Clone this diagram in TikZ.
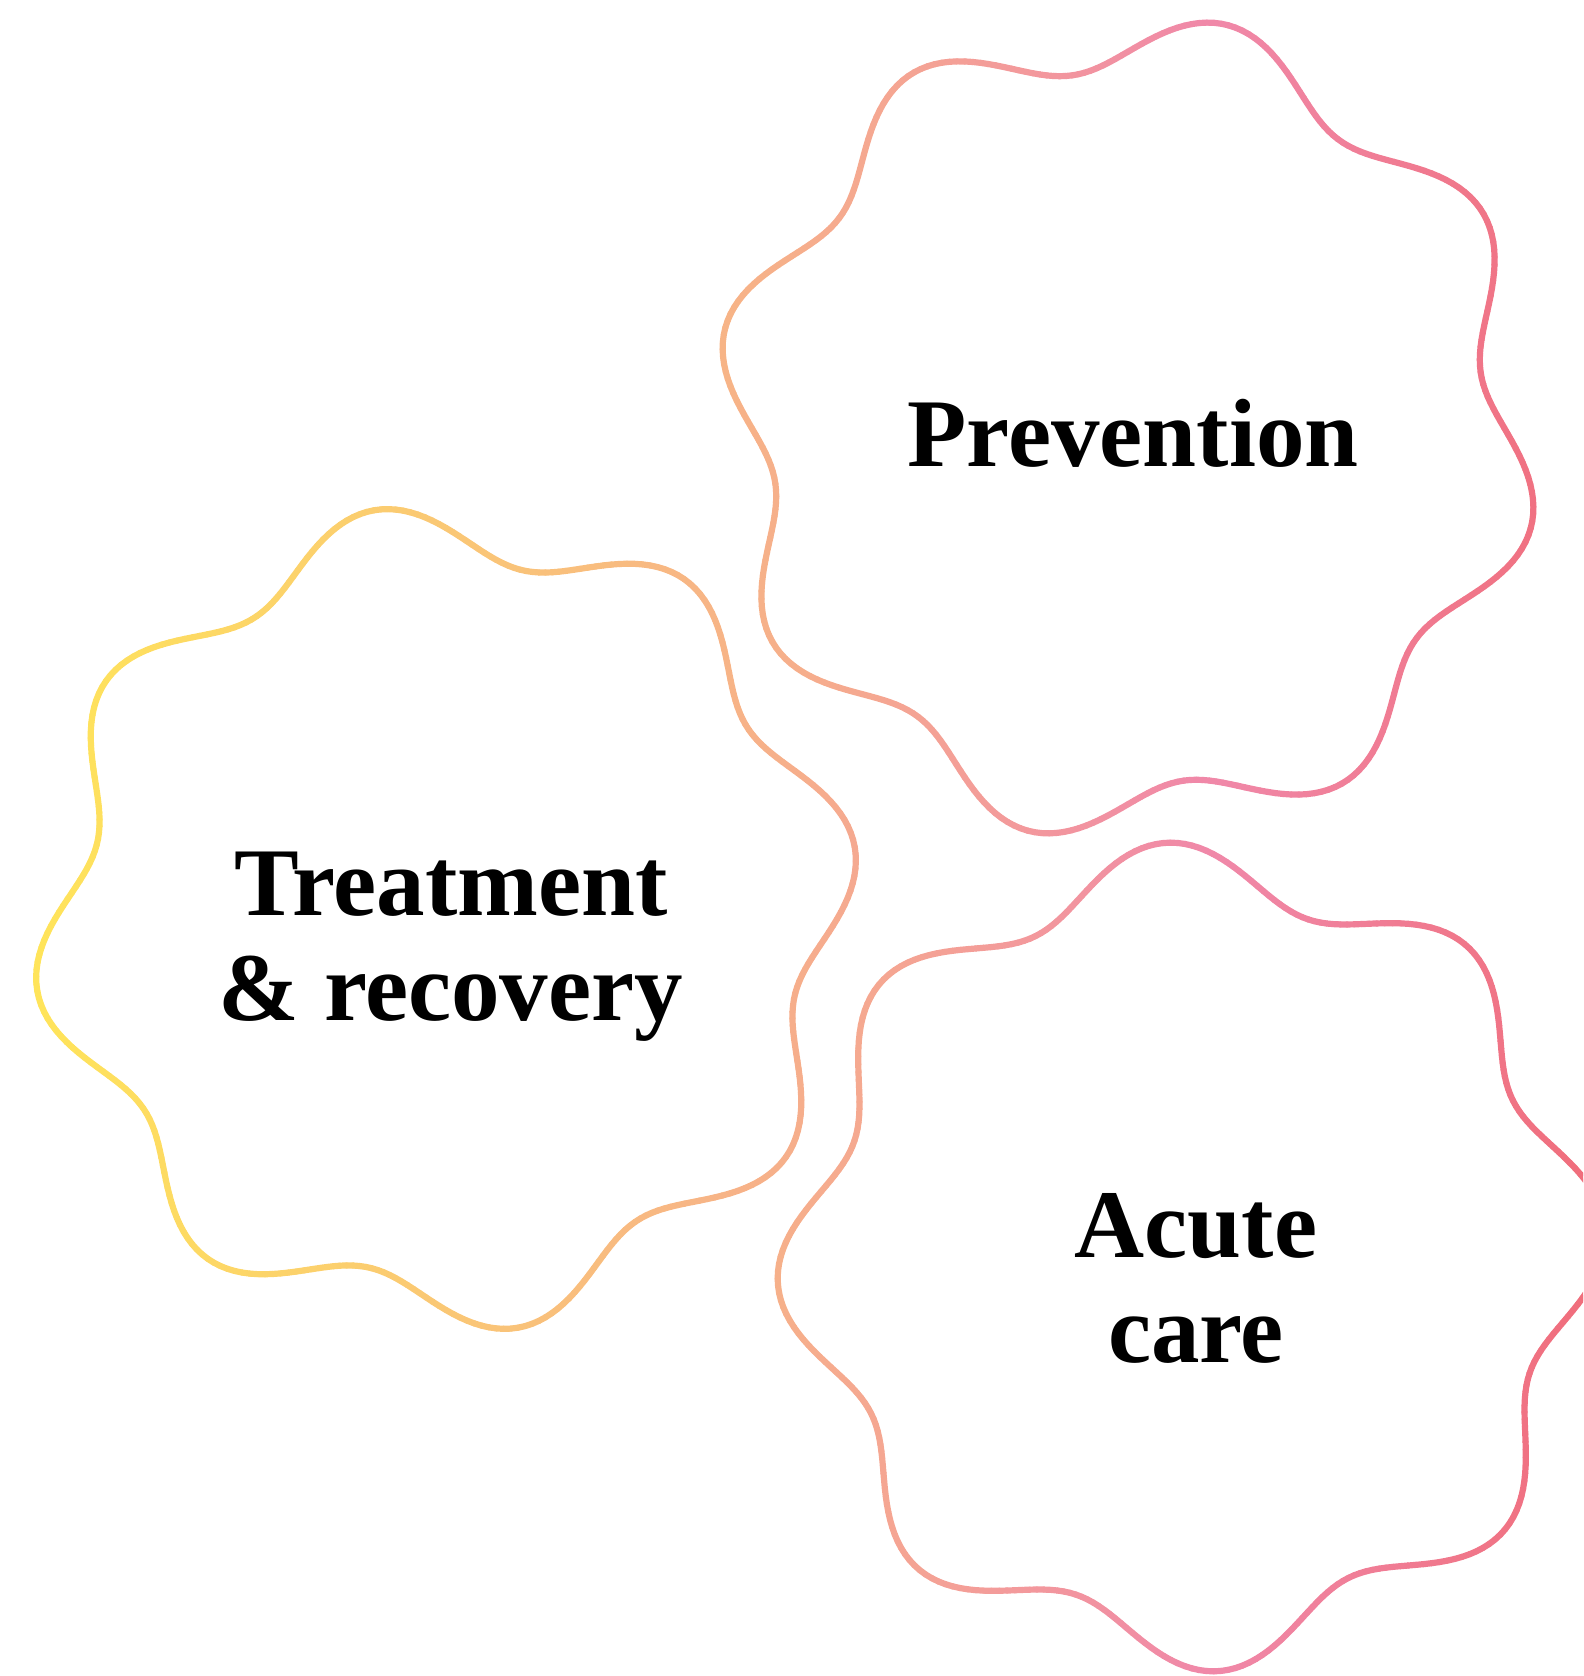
\documentclass[tikz,border=0pt]{standalone}
\usepackage{fontspec}
\setmainfont{Liberation Serif}
\definecolor{gradyellow}{HTML}{FFE45A}
\definecolor{gradpeach}{HTML}{F6AE8C}
\definecolor{gradpink}{HTML}{F088A8}
\definecolor{gradred}{HTML}{F06E7C}
\tikzset{
  blobline/.style={line width=0.62mm,line cap=round},
  blobtext/.style={font=\fontsize{27.6}{30}\selectfont\bfseries,align=center,anchor=base,inner sep=0pt}
}

\begin{document}
\begin{tikzpicture}[x=0.1mm,y=0.1mm]
\useasboundingbox (0,0) rectangle (1583,1676);
\clip (0,0) rectangle (1583,1676);
\foreach \cx/\cy/\ph in {1128/1248/76.3,446/757/10,1192/419/3.6}{
  \foreach \a in {0,...,359}{
    \pgfmathsetmacro\ra{386+29*cos(8*(\a-\ph))}
    \pgfmathsetmacro\rb{386+29*cos(8*(\a+1-\ph))}
    \pgfmathsetmacro\px{\cx+\ra*cos(\a+0.5)}
    \pgfmathtruncatemacro\ta{100*min(1,max(0,(\px-40)/760))}
    \pgfmathtruncatemacro\tb{100*min(1,max(0,(\px-800)/400))}
    \pgfmathtruncatemacro\tc{100*min(1,max(0,(\px-1220)/360))}
    \colorlet{colA}{gradpeach!\ta!gradyellow}
    \colorlet{colB}{gradpink!\tb!colA}
    \colorlet{segcol}{gradred!\tc!colB}
    \draw[blobline,segcol] ({\cx+\ra*cos(\a)},{\cy+\ra*sin(\a)}) -- ({\cx+\rb*cos(\a+1)},{\cy+\rb*sin(\a+1)});
  }
}
\node[blobtext] (prevention) at (1133,1209) {Prevention};
\node[blobtext] (treatment) at (451,655) {Treatment\\\& recovery};
\node[blobtext] (acute) at (1196,313) {Acute\\care};
\end{tikzpicture}
\end{document}
